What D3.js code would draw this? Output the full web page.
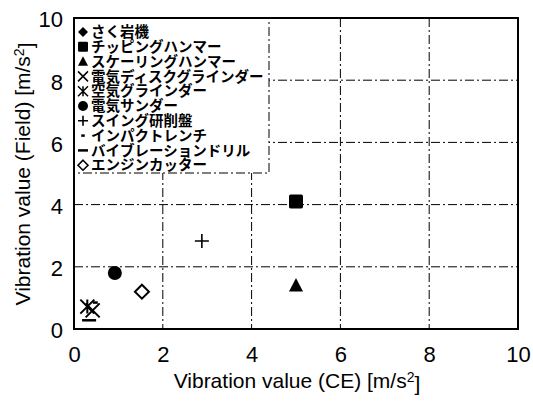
<!DOCTYPE html>
<html>
<head>
<meta charset="utf-8">
<script src="https://cdn.jsdelivr.net/npm/d3@7/dist/d3.min.js"></script>
<style>
  html, body { margin: 0; padding: 0; background: #fff; }
  svg { display: block; }
  .tick-label, .axis-title { font-family: "Liberation Sans", Arial, sans-serif; fill: #000; }
  .legend-text { font-family: "Noto Sans CJK JP", sans-serif; font-weight: 700; fill: #000; }
</style>
</head>
<body>
<svg id="chart" width="533" height="402"></svg>
<script>
// Tools and their vibration values: CE declared value vs. field measurement [m/s²]
const tools = ["さく岩機", "チッピングハンマー", "スケーリングハンマー", "電気ディスクグラインダー",
  "空気グラインダー", "電気サンダー", "スイング研削盤", "インパクトレンチ",
  "バイブレーションドリル", "エンジンカッター"];
const markers = ["diamondFilled", "square", "triangle", "cross", "asterisk",
  "circle", "plus", "dot", "dash", "diamondOpen"];
const ceValues =    [null, 5.0, 5.0, 0.42, 0.3, 0.92, 2.88, 0.48, 0.34, 1.53];
const fieldValues = [null, 4.1, 1.4, 0.6, 0.72, 1.8, 2.83, 0.85, 0.28, 1.2];
const xTicks = [0, 2, 4, 6, 8, 10];
const yTicks = [0, 2, 4, 6, 8, 10];
const gridValues = [2, 4, 6, 8];

const svg = d3.select("#chart");
const plot = { left: 74, right: 518, top: 18, bottom: 329 };
const x = d3.scaleLinear().domain([0, 10]).range([plot.left, plot.right]);
const y = d3.scaleLinear().domain([0, 10]).range([plot.bottom, plot.top]);

// Dash-dot gridlines
const grid = svg.append("g").attr("stroke", "#000").attr("stroke-width", 1)
  .attr("stroke-dasharray", "9,3,2,3").attr("fill", "none");
grid.selectAll("line.vx").data(gridValues).join("line").attr("class", "vx")
  .attr("x1", d => x(d)).attr("x2", d => x(d)).attr("y1", y(10)).attr("y2", y(0));
grid.selectAll("line.hy").data(gridValues).join("line").attr("class", "hy")
  .attr("y1", d => y(d)).attr("y2", d => y(d)).attr("x1", x(0)).attr("x2", x(10));

// Axes: labels only, the frame is drawn separately
const xAxis = d3.axisBottom(x).tickValues(xTicks).tickSize(0).tickPadding(0);
const yAxis = d3.axisLeft(y).tickValues(yTicks).tickSize(0).tickPadding(0);
const gx = svg.append("g").attr("transform", `translate(0,${plot.bottom + 25})`).call(xAxis);
const gy = svg.append("g").attr("transform", `translate(${plot.left - 11},0)`).call(yAxis);
[gx, gy].forEach(g => {
  g.select(".domain").remove();
  g.selectAll("text").attr("class", "tick-label").style("font-size", "22px")
    .attr("font-family", null).attr("fill", "#000");
});
gx.selectAll("text").attr("dy", "0.36em");
gy.selectAll("text").attr("dy", "0.4em");

// Point markers
function drawMarker(g, type, cx, cy, s) {
  const h = s / 2;
  switch (type) {
    case "square":
      g.append("rect").attr("x", cx - h).attr("y", cy - h).attr("width", s).attr("height", s)
        .attr("rx", s * 0.12).attr("fill", "#000"); break;
    case "triangle":
      g.append("path").attr("d", `M${cx},${cy - h * 1.05}L${cx + h},${cy + h * 0.85}L${cx - h},${cy + h * 0.85}Z`)
        .attr("fill", "#000"); break;
    case "circle":
      g.append("circle").attr("cx", cx).attr("cy", cy).attr("r", h).attr("fill", "#000"); break;
    case "diamondFilled":
      g.append("path").attr("d", `M${cx},${cy - h}L${cx + h},${cy}L${cx},${cy + h}L${cx - h},${cy}Z`)
        .attr("fill", "#000"); break;
    case "diamondOpen":
      g.append("path").attr("d", `M${cx},${cy - h}L${cx + h},${cy}L${cx},${cy + h}L${cx - h},${cy}Z`)
        .attr("fill", "#fff").attr("stroke", "#000").attr("stroke-width", s > 11 ? 2 : 1.6); break;
    case "cross":
      g.append("path").attr("d", `M${cx - h},${cy - h}L${cx + h},${cy + h}M${cx + h},${cy - h}L${cx - h},${cy + h}`)
        .attr("stroke", "#000").attr("stroke-width", s > 11 ? 2 : 1.5); break;
    case "asterisk":
      g.append("path").attr("d", `M${cx - h},${cy - h}L${cx + h},${cy + h}M${cx + h},${cy - h}L${cx - h},${cy + h}M${cx},${cy - h}L${cx},${cy + h}`)
        .attr("stroke", "#000").attr("stroke-width", s > 11 ? 2 : 1.5); break;
    case "plus":
      g.append("path").attr("d", `M${cx - h},${cy}L${cx + h},${cy}M${cx},${cy - h}L${cx},${cy + h}`)
        .attr("stroke", "#000").attr("stroke-width", 1.6); break;
    case "dot":
      g.append("path").attr("d", `M${cx - h * 0.35},${cy}L${cx + h * 0.35},${cy}`)
        .attr("stroke", "#000").attr("stroke-width", 2.5); break;
    case "dash":
      g.append("path").attr("d", `M${cx - h},${cy}L${cx + h},${cy}`)
        .attr("stroke", "#000").attr("stroke-width", 2.5); break;
  }
}

const points = svg.append("g");
tools.forEach((t, i) => {
  if (ceValues[i] == null || fieldValues[i] == null) return;
  drawMarker(points, markers[i], x(ceValues[i]), y(fieldValues[i]), 14);
});

// Legend box
const legend = svg.append("g");
legend.append("rect").attr("x", plot.left).attr("y", plot.top)
  .attr("width", 195).attr("height", 155)
  .attr("fill", "#fff").attr("stroke", "#000").attr("stroke-width", 1)
  .attr("stroke-dasharray", "9,3,2,3");
tools.forEach((t, i) => {
  const cy = 32 + i * 14.8;
  drawMarker(legend, markers[i], 83, cy, 10);
  legend.append("text").attr("class", "legend-text").attr("x", 91).attr("y", cy)
    .attr("dy", "0.36em").style("font-size", "14.5px").text(t);
});

// Frame
svg.append("rect").attr("x", plot.left).attr("y", plot.top)
  .attr("width", plot.right - plot.left).attr("height", plot.bottom - plot.top)
  .attr("fill", "none").attr("stroke", "#000").attr("stroke-width", 2);

// Axis titles
const xt = svg.append("text").attr("class", "axis-title").attr("x", 297).attr("y", 388)
  .attr("text-anchor", "middle").style("font-size", "21px");
xt.append("tspan").text("Vibration value (CE) [m/s");
xt.append("tspan").attr("dy", "-0.45em").style("font-size", "14px").text("2");
xt.append("tspan").attr("dy", "0.45em").text("]");

const yt = svg.append("text").attr("class", "axis-title")
  .attr("transform", "translate(30,174) rotate(-90)")
  .attr("text-anchor", "middle").style("font-size", "21px");
yt.append("tspan").text("Vibration value (Field) [m/s");
yt.append("tspan").attr("dy", "-0.45em").style("font-size", "14px").text("2");
yt.append("tspan").attr("dy", "0.45em").text("]");
</script>
</body>
</html>
